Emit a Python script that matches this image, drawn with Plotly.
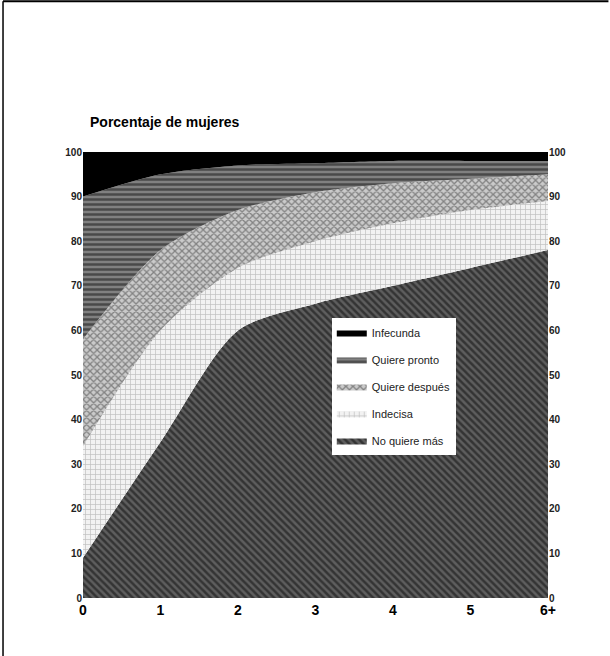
import plotly.graph_objects as go

hijos = [0, 1, 2, 3, 4, 5, 6]
hijos_labels = ['0', '1', '2', '3', '4', '5', '6+']

# porcentaje de mujeres por capa (de abajo hacia arriba)
no_quiere_mas = [9, 35, 60, 66, 70, 74, 78]
indecisa = [25, 25, 14, 14, 14, 13, 11]
quiere_despues = [24, 18, 13, 11, 9, 7, 6]
quiere_pronto = [32, 17, 10, 6.5, 5, 4, 3]
infecunda = [10, 5, 3, 2.5, 2, 2, 2]

y_ticks = [0, 10, 20, 30, 40, 50, 60, 70, 80, 90, 100]

# nombre, valores, color patron, fondo, forma, solidez, orden en leyenda
capas = [
    ('No quiere más', no_quiere_mas, '#0a0a0a', '#5e5e5e', '\\', 0.5, 5),
    ('Indecisa', indecisa, '#8a8a8a', '#f2f2f2', '+', 0.25, 4),
    ('Quiere después', quiere_despues, '#3a3a3a', '#cacaca', 'x', 0.45, 3),
    ('Quiere pronto', quiere_pronto, '#111111', '#808080', '-', 0.5, 2),
    ('Infecunda', infecunda, '#000000', '#000000', '', 0, 1),
]

fig = go.Figure()
for name, vals, fg, bg, shape, sol, rank in capas:
    fig.add_trace(go.Scatter(
        x=hijos, y=vals, name=name, mode='lines', stackgroup='uno',
        line=dict(width=0, shape='spline', smoothing=0.8),
        fillcolor=bg if shape else fg,
        fillpattern=dict(shape=shape, fgcolor=fg, bgcolor=bg, size=5, solidity=sol) if shape else None,
        legendrank=rank, legendgroup=str(rank),
    ))

# eje derecho con las mismas marcas
fig.add_trace(go.Scatter(x=[0], y=[0], yaxis='y2', mode='markers',
                         marker=dict(opacity=0), showlegend=False, hoverinfo='skip'))

tick_font = dict(size=10, color='#222', weight='bold')

fig.update_layout(
    width=610, height=656,
    margin=dict(l=83, r=62, t=152, b=58),
    paper_bgcolor='white', plot_bgcolor='white',
    font=dict(family='Arial, Liberation Sans, sans-serif', color='black'),
    xaxis=dict(range=[0, 6], tickvals=hijos, ticktext=hijos_labels, showgrid=False,
               zeroline=False, tickfont=dict(size=14, color='black', weight='bold'),
               ticks='', ticklabelstandoff=2),
    yaxis=dict(range=[0, 100], tickvals=y_ticks, showgrid=False, zeroline=False,
               tickfont=tick_font, ticks=''),
    yaxis2=dict(range=[0, 100], tickvals=y_ticks, overlaying='y', side='right',
                showgrid=False, zeroline=False, tickfont=tick_font, ticks=''),
    showlegend=True,
    legend=dict(x=0.535, y=0.628, xanchor='left', yanchor='top', bgcolor='white',
                traceorder='grouped', tracegroupgap=8,
                font=dict(size=11, color='#222'), itemwidth=30),
    annotations=[dict(text='Porcentaje de mujeres', xref='paper', yref='paper',
                      x=0.01, y=1.045, xanchor='left', yanchor='bottom', showarrow=False,
                      font=dict(size=14, color='black', weight='bold'))],
    shapes=[
        dict(type='line', xref='paper', yref='paper', x0=-0.172, x1=1.13, y0=1.338, y1=1.338,
             line=dict(color='black', width=2)),
        dict(type='line', xref='paper', yref='paper', x0=-0.172, x1=-0.172, y0=1.338, y1=-0.135,
             line=dict(color='black', width=1.5)),
    ],
)

fig.write_html('out.html', config={'displayModeBar': False},
               post_script="document.body.style.margin='0';")
